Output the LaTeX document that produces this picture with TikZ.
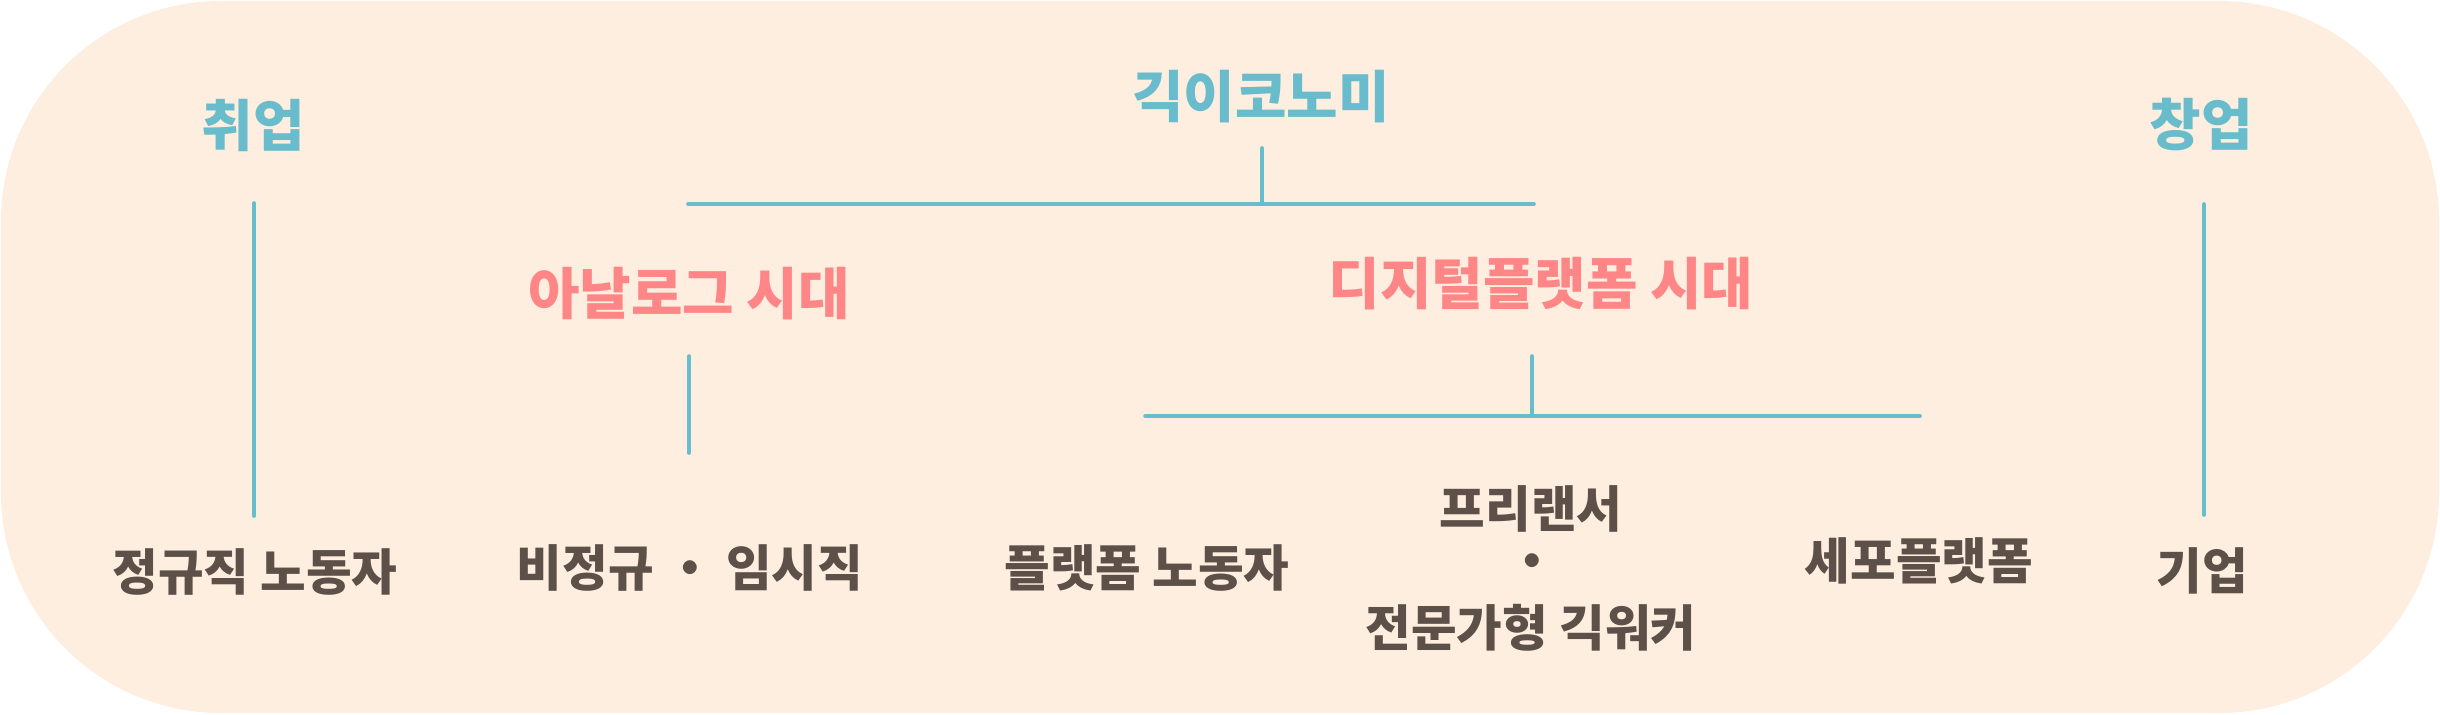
\documentclass[tikz,border=0pt]{standalone}
\usepackage{fontspec}
\newfontfamily\kr{Noto Sans CJK KR}
\definecolor{bgc}{HTML}{FEEEDF}
\definecolor{teal}{HTML}{68BCCB}
\definecolor{salmon}{HTML}{FF8686}
\definecolor{brownc}{HTML}{5C5049}
\tikzset{
  lbltop/.style={inner sep=0pt, text=teal, font=\kr\bfseries\fontsize{28pt}{32pt}\selectfont},
  lblera/.style={inner sep=0pt, text=salmon, font=\kr\bfseries\fontsize{28pt}{32pt}\selectfont},
  lblbot/.style={inner sep=0pt, text=brownc, font=\kr\bfseries\fontsize{24.8pt}{30pt}\selectfont},
  conn/.style={draw=teal, line width=1.8pt, line cap=round}
}
\begin{document}
\begin{tikzpicture}[x=0.5pt, y=-0.5pt]
\useasboundingbox (0,0) rectangle (2440,714);
\fill[bgc, rounded corners=110pt] (1,1) rectangle (2439,713);
% labels
\node[lbltop] (chwi) at (253,125) {취업};
\node[lbltop] (gig) at (1261,97) {긱이코노미};
\node[lbltop] (chang) at (2201,124) {창업};
\node[lblera] (analog) at (689,294) {아날로그 시대};
\node[lblera] (digital) at (1541,284) {디지털플랫폼 시대};
\node[lblbot] (reg) at (255,572) {정규직 노동자};
\node[lblbot] (irreg) at (690,568) {비정규 ・ 임시직};
\node[lblbot] (plat) at (1147,568) {플랫폼 노동자};
\node[lblbot] (free) at (1531,509) {프리랜서};
\node[lblbot] (fdot) at (1532,567) {・};
\node[lblbot] (pro) at (1531,628) {전문가형 긱워커};
\node[lblbot] (cell) at (1919,561) {세포플랫폼};
\node[lblbot] (corp) at (2202,571) {기업};
% connector points
\coordinate (c1t) at (254,203);
\coordinate (c1b) at (254,516);
\coordinate (c2t) at (2204,204);
\coordinate (c2b) at (2204,515);
\coordinate (gt) at (1262,148);
\coordinate (gb) at (1262,204);
\coordinate (hl) at (688,204);
\coordinate (hr) at (1534,204);
\coordinate (at) at (689,356);
\coordinate (ab) at (689,453);
\coordinate (dt) at (1532,356);
\coordinate (db) at (1532,416);
\coordinate (bl) at (1145,416);
\coordinate (br) at (1920,416);
% connectors
\draw[conn] (c1t) -- (c1b);
\draw[conn] (c2t) -- (c2b);
\draw[conn] (gt) -- (gb);
\draw[conn] (hl) -- (hr);
\draw[conn] (at) -- (ab);
\draw[conn] (dt) -- (db);
\draw[conn] (bl) -- (br);
\end{tikzpicture}
\end{document}
